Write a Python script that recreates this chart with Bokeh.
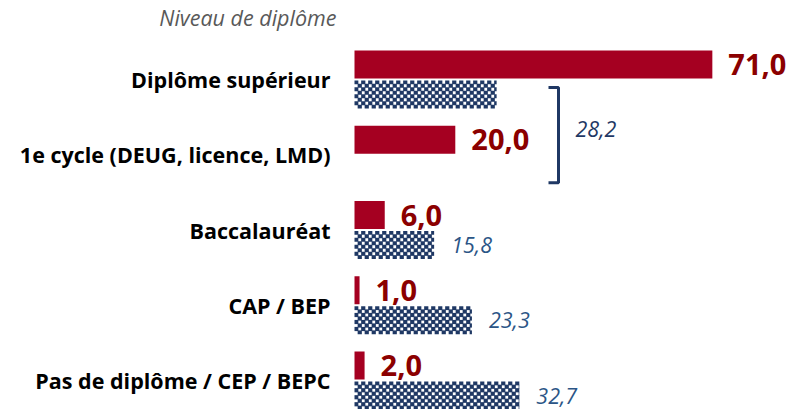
import math
from bokeh.plotting import figure
from bokeh.models import ColumnDataSource, Range1d, Label
from bokeh.core.properties import value
from bokeh.embed import file_html
from bokeh.resources import INLINE

# ---- data ----
categories = ["Diplôme supérieur", "1e cycle (DEUG, licence, LMD)", "Baccalauréat",
              "CAP / BEP", "Pas de diplôme / CEP / BEPC"]
red_values = [71.0, 20.0, 6.0, 1.0, 2.0]
check_index = [0, 2, 3, 4]
check_values = [28.2, 15.8, 23.3, 32.7]
check_labelled = [False, True, True, True]
bracket_groups = [0, 1]
bracket_value = 28.2
title_text = "Niveau de diplôme"

# ---- layout constants ----
W, H = 796, 409
k = 5.04            # px per unit on x
x0_px = 354         # bar origin in px
g = 75.25           # px per group
c0 = 79             # first group centre in px
off = 15 / g
bh = 28 / g
cell = 3.5          # checker cell in px
grow = 0.35         # dark cells drawn slightly larger (px)

def fmt(v):
    return f"{v:.1f}".replace(".", ",")

RED = "#A50021"
DARKRED = "#8B0000"
NAVY = "#1F3864"
BLUE = "#2B5586"
FONT = "Open Sans"

p = figure(width=W, height=H, output_backend="svg", toolbar_location=None,
           x_range=Range1d(-x0_px / k, (W - x0_px) / k),
           y_range=Range1d((H - c0) / g, -c0 / g),
           x_axis_location=None, y_axis_location=None, min_border=0)
p.grid.visible = False
p.outline_line_color = None
p.background_fill_color = "white"
p.border_fill_color = "white"

idx = list(range(len(categories)))
red_src = ColumnDataSource(dict(
    y=[i - off for i in idx], v=red_values, lab=[fmt(v) for v in red_values]))
p.hbar(y="y", left=0, right="v", height=bh, source=red_src,
       fill_color=RED, line_color=None)

# checkered bars, built from the values
cx = cell / k
cy = cell / g
gx = grow / k
gy = grow / g
rows = int(round(28 / cell))
L, R, T, B = [], [], [], []
for i, v in zip(check_index, check_values):
    yc = i + off
    top = yc - bh / 2
    bot = yc + bh / 2
    ncol = int(math.ceil(v / cx))
    for r in range(rows):
        for c in range(ncol):
            if (r + c) % 2 == 0:
                L.append(max(c * cx - gx, 0))
                R.append(min((c + 1) * cx + gx, v))
                T.append(max(top + r * cy - gy, top))
                B.append(min(top + (r + 1) * cy + gy, bot))
p.quad(left=L, right=R, top=T, bottom=B, fill_color=NAVY, line_color=None)

# category labels
cat_src = ColumnDataSource(dict(y=idx, t=categories))
p.text(x=0, y="y", text="t", source=cat_src, x_offset=-24,
       text_align="right", text_baseline="middle",
       text_font=value(FONT), text_font_style="bold",
       text_font_size="21.5px", text_color="black")

# red value labels
p.text(x="v", y="y", text="lab", source=red_src, x_offset=16,
       text_align="left", text_baseline="middle",
       text_font=value(FONT), text_font_style="bold",
       text_font_size="29px", text_color=DARKRED)

# blue value labels
lab_y = [i + off for i, l in zip(check_index, check_labelled) if l]
lab_v = [v for v, l in zip(check_values, check_labelled) if l]
blue_src = ColumnDataSource(dict(y=lab_y, v=lab_v, lab=[fmt(v) for v in lab_v]))
p.text(x="v", y="y", text="lab", source=blue_src, x_offset=17,
       text_align="left", text_baseline="middle",
       text_font=value(FONT), text_font_style="italic",
       text_font_size="21.5px", text_color=BLUE)

# bracket for grouped value
bx = (558 - x0_px) / k
tick = 10 / k
b_top = bracket_groups[0] + 8 / g
b_bot = bracket_groups[1] + 28 / g
p.line(x=[bx - tick, bx, bx, bx - tick], y=[b_top, b_top, b_bot, b_bot],
       line_color=NAVY, line_width=3)
p.text(x=[bx], y=[(b_top + b_bot) / 2 - 6 / g], text=[fmt(bracket_value)],
       x_offset=17, text_align="left", text_baseline="middle",
       text_font=value(FONT), text_font_style="italic",
       text_font_size="21.5px", text_color=NAVY)

# title
p.add_layout(Label(x=0, y=(17 - c0) / g, x_offset=-18, text=title_text,
                   text_align="right", text_baseline="middle",
                   text_font=FONT, text_font_style="italic",
                   text_font_size="21.5px", text_color="#595959"))

open("out.html", "w").write(file_html(p, INLINE))
